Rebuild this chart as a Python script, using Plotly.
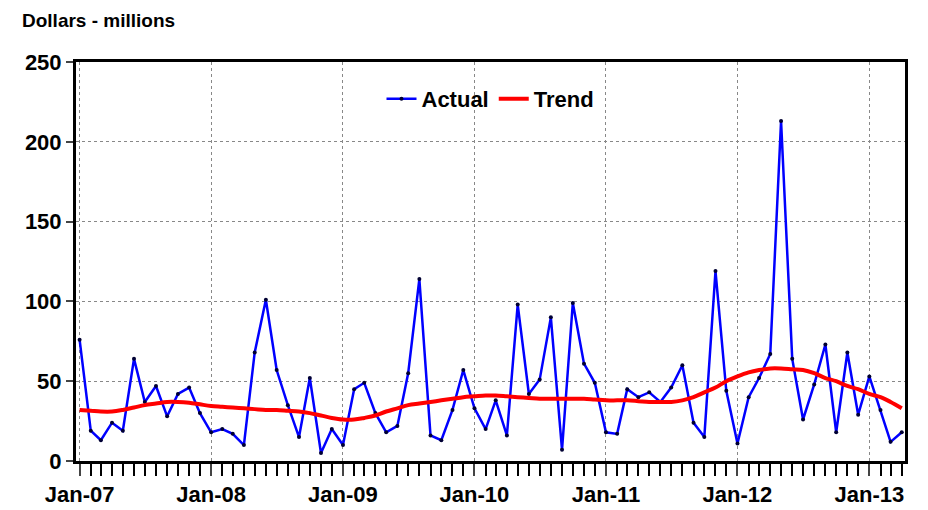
import plotly.graph_objects as go
import pandas as pd

months = pd.date_range("2007-01-01", periods=76, freq="MS")
actual = [76,19,13,24,19,64,37,47,28,42,46,30,
          18,20,17,10,68,101,57,35,15,52,5,20,
          10,45,49,30,18,22,55,114,16,13,32,57,
          33,20,38,16,98,42,51,90,7,99,61,49,
          18,17,45,40,43,37,46,60,24,15,119,44,
          11,40,52,67,213,64,26,48,73,18,68,29,
          53,32,12,18]
trend = [32,31.5,31,31,32,33.5,35,36,37,37,36.5,35.5,
         34.5,34,33.5,33,32.5,32,32,31.5,31,30,28.5,27,
         26,26,27,28.5,31,33,35,36,37,38,39,40,
         40.5,41,41,40.5,40,39.5,39,39,39,39,39,38.5,
         38,38,38,37.5,37,37,37,38,40,43,46,50,
         53,55.5,57,58,58,57.5,57,55,52,50,47,45,
         42,40,37,33]

fig = go.Figure()
fig.add_trace(go.Scatter(x=months, y=actual, name="<b>Actual</b>", mode="lines+markers",
    line=dict(color="#0000ff", width=2.5), marker=dict(size=4, color="#000033")))
fig.add_trace(go.Scatter(x=months, y=trend, name="<b>Trend</b>", mode="lines",
    line=dict(color="#ff0000", width=4, shape="spline")))

fig.update_layout(
    width=928, height=510, paper_bgcolor="white", plot_bgcolor="white",
    margin=dict(l=68, r=31, t=54, b=57, autoexpand=False),
    font=dict(family="Liberation Sans, Arial", size=20, color="black"),
    showlegend=True,
    legend=dict(orientation="h", x=0.5, xanchor="center", y=0.96, yanchor="top",
                font=dict(size=22, family="Liberation Sans, Arial"), bgcolor="rgba(0,0,0,0)"),
    annotations=[dict(text="<b>Dollars - millions</b>", xref="paper", yref="paper",
                      x=-0.068, y=1.135, xanchor="left", yanchor="top", showarrow=False,
                      font=dict(size=19))],
)
fig.update_yaxes(range=[0, 250], dtick=50, showgrid=True, gridcolor="#888", griddash="dot",
                 showline=True, linecolor="black", linewidth=3, mirror=True, automargin=False,
                 ticks="outside", ticklen=7, tickwidth=2, zeroline=False,
                 tickprefix="<b>", ticksuffix="</b>",
                 tickfont=dict(size=22, family="Liberation Sans, Arial"))
fig.update_xaxes(range=["2006-12-22", "2013-04-10"],
                 tickvals=pd.date_range("2007-01-01", periods=7, freq="12MS"),
                 ticktext=["<b>Jan-07</b>","<b>Jan-08</b>","<b>Jan-09</b>","<b>Jan-10</b>","<b>Jan-11</b>","<b>Jan-12</b>","<b>Jan-13</b>"],
                 showgrid=True, gridcolor="#888", griddash="dot", automargin=False,
                 showline=True, linecolor="black", linewidth=3, mirror=True,
                 ticks="outside", ticklen=12, tickwidth=2,
                 minor=dict(tickvals=months, ticks="outside", ticklen=12, tickwidth=2, tickcolor="black", showgrid=False),
                 tickfont=dict(size=22, family="Liberation Sans, Arial"))
fig.write_html("out.html")
